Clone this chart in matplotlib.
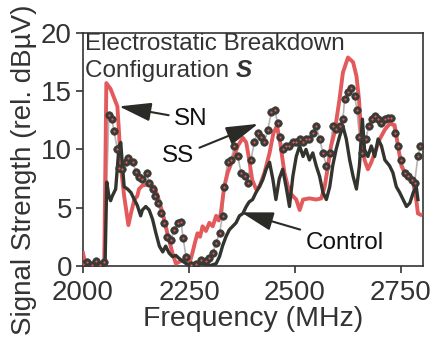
import matplotlib
matplotlib.use("Agg")
import matplotlib.pyplot as plt

plt.rcParams['font.family'] = ['Liberation Sans', 'DejaVu Sans']

TXT = '#333333'

# SN series (red line)
sn_freq = [2000, 2006, 2020, 2035, 2050, 2055, 2065, 2081, 2085, 2089, 2097, 2107, 2113, 2121,
           2128, 2132, 2140, 2152, 2168, 2176, 2188, 2199, 2211, 2219, 2235, 2251, 2258, 2264,
           2270, 2276, 2282, 2290, 2298, 2306, 2314, 2320, 2325, 2333, 2341, 2353, 2365, 2377,
           2385, 2392, 2399, 2408, 2416, 2428, 2440, 2449, 2457, 2465, 2475, 2487, 2503, 2511,
           2519, 2534, 2550, 2562, 2570, 2578, 2585, 2593, 2605, 2613, 2625, 2637, 2645, 2651,
           2656, 2664, 2672, 2680, 2688, 2700, 2712, 2723, 2735, 2743, 2751, 2759, 2771, 2779,
           2786, 2790, 2796]
sn_val = [1.1, 0.1, 0.2, 0.1, 0.1, 15.7, 15.2, 13.7, 11.4, 8.6, 6.0, 3.5, 4.5, 5.7,
          6.0, 6.6, 6.9, 7.0, 6.8, 6.0, 4.5, 2.8, 1.1, 0.2, 0.5, 0.2, 1.1, 2.0,
          2.8, 2.5, 3.4, 3.0, 3.7, 3.4, 4.3, 3.9, 4.5, 6.8, 8.0, 9.1, 10.3, 11.0,
          10.6, 9.1, 7.4, 6.6, 6.8, 8.0, 9.7, 11.4, 12.0, 10.6, 8.0, 6.3, 5.7, 4.8,
          5.7, 5.8, 5.7, 5.8, 6.8, 8.6, 10.3, 11.4, 14.3, 16.6, 17.9, 17.5, 16.3, 14.3,
          11.4, 9.1, 8.3, 8.9, 9.7, 10.9, 11.7, 12.2, 12.1, 10.3, 8.6, 8.0, 7.7, 7.1,
          5.7, 4.5, 4.4]

# Control series (dark line)
ctrl_freq = [2000, 2020, 2040, 2052, 2056, 2061, 2065, 2069, 2077, 2085, 2089, 2093, 2097, 2105,
             2113, 2121, 2128, 2136, 2140, 2148, 2156, 2164, 2172, 2180, 2188, 2195, 2203, 2211,
             2219, 2231, 2243, 2255, 2266, 2282, 2298, 2314, 2322, 2329, 2337, 2345, 2353, 2361,
             2369, 2377, 2385, 2392, 2400, 2408, 2416, 2424, 2432, 2440, 2448, 2455, 2463, 2471,
             2479, 2487, 2495, 2503, 2511, 2519, 2526, 2534, 2542, 2550, 2558, 2566, 2574, 2582,
             2589, 2597, 2605, 2613, 2621, 2629, 2637, 2645, 2652, 2659, 2664, 2672, 2680, 2688,
             2696, 2704, 2712, 2723, 2731, 2739, 2747, 2755, 2763, 2771, 2779, 2786, 2790]
ctrl_val = [0.1, 0.1, 0.1, 0.2, 7.2, 6.0, 5.6, 6.0, 6.6, 10.3, 10.6, 8.6, 6.8, 6.6,
            6.3, 5.7, 5.2, 4.3, 4.8, 5.1, 4.8, 4.0, 2.8, 1.7, 1.2, 1.7, 1.1, 0.8,
            0.9, 0.5, 0.2, 0.0, 0.2, 0.2, 0.0, 0.2, 0.8, 1.7, 2.5, 3.1, 3.4, 3.7,
            4.3, 4.5, 5.1, 5.5, 5.7, 6.3, 6.8, 7.4, 8.3, 8.9, 7.4, 5.7, 7.5, 8.3,
            6.8, 5.1, 7.7, 9.4, 10.3, 9.4, 10.0, 9.1, 9.7, 8.6, 7.7, 6.3, 5.7, 6.8,
            8.6, 10.0, 11.1, 12.0, 10.9, 9.1, 7.7, 6.6, 8.6, 12.6, 10.0, 9.4, 10.3, 9.4,
            10.9, 10.3, 9.1, 8.6, 8.0, 6.8, 6.3, 5.7, 5.1, 5.4, 6.3, 6.8, 5.7]

# SS series (grey line with dots)
ss_freq = [2000, 2010, 2020, 2030, 2040, 2050, 2061, 2068, 2073, 2081, 2085, 2093, 2101, 2107,
           2117, 2125, 2132, 2140, 2150, 2156, 2164, 2170, 2176, 2184, 2191, 2199, 2207, 2215,
           2223, 2231, 2236, 2243, 2255, 2266, 2278, 2290, 2298, 2306, 2314, 2322, 2329, 2333,
           2341, 2349, 2357, 2365, 2373, 2381, 2388, 2396, 2404, 2412, 2420, 2428, 2436, 2444,
           2452, 2459, 2465, 2471, 2479, 2487, 2495, 2503, 2511, 2519, 2526, 2534, 2542, 2550,
           2558, 2566, 2574, 2582, 2589, 2597, 2605, 2613, 2617, 2625, 2633, 2641, 2646, 2652,
           2659, 2667, 2674, 2682, 2688, 2696, 2704, 2712, 2719, 2727, 2735, 2743, 2751, 2759,
           2767, 2775, 2782, 2790, 2796]
ss_val = [0.2, 0.3, 0.1, 0.4, 0.1, 0.3, 13.0, 12.6, 11.6, 10.0, 8.4, 8.3, 8.9, 9.3,
          8.9, 8.1, 7.6, 7.5, 8.0, 7.1, 6.6, 6.0, 5.4, 4.5, 3.7, 2.5, 2.2, 3.1,
          3.7, 3.8, 2.4, 0.8, 0.1, 0.2, 0.5, 0.4, 0.7, 1.1, 2.0, 2.8, 4.3, 6.8,
          8.9, 9.1, 10.3, 9.4, 8.0, 7.7, 7.1, 9.1, 10.6, 11.4, 11.1, 10.6, 11.7, 13.2,
          13.4, 12.3, 11.1, 10.0, 10.3, 10.3, 10.6, 10.6, 10.9, 10.6, 10.9, 10.9, 11.4, 12.0,
          10.9, 9.7, 8.6, 9.7, 12.0, 11.8, 12.0, 12.6, 14.3, 14.9, 15.3, 14.6, 13.4, 11.1,
          9.7, 10.9, 12.0, 12.6, 12.9, 12.6, 12.3, 12.6, 12.7, 12.7, 11.4, 10.3, 9.1, 8.0,
          7.7, 7.4, 7.1, 9.4, 10.3]

x_ticks = [2000, 2250, 2500, 2750]
y_ticks = [0, 5, 10, 15, 20]

fig = plt.figure(figsize=(4.37, 3.37), dpi=100)
ax = fig.add_axes([0.19, 0.211, 0.778, 0.691])

ax.plot(ss_freq, ss_val, color='#b5b5b5', lw=1.2, zorder=2)
ax.plot(sn_freq, sn_val, color='#e35a5c', lw=2.8, zorder=3, solid_joinstyle='round')
ax.plot(ctrl_freq, ctrl_val, color='#34342f', lw=2.4, zorder=4, solid_joinstyle='round')
ax.plot(ss_freq, ss_val, ls='none', marker='o', ms=5.4, mfc='#3a3a36', mec='#3a3a36',
        mew=0.5, zorder=5)
ax.plot(ss_freq, ss_val, ls='none', marker='o', ms=1.6, mfc='#e35a5c', mec='none', zorder=6)

ax.set_xlim(2000, 2802)
ax.set_ylim(0, 20)
ax.set_xticks(x_ticks)
ax.set_yticks(y_ticks)
for s in ax.spines.values():
    s.set_color(TXT)
    s.set_linewidth(1.2)
ax.tick_params(direction='out', length=5, width=1.2, color=TXT, labelcolor=TXT,
               labelsize=20)
ax.tick_params(axis='x', pad=5)
ax.tick_params(axis='y', pad=3)
ax.set_xlabel('Frequency (MHz)', fontsize=20.5, color=TXT, labelpad=0)
fig.text(0.055, 0.496, 'Signal Strength (rel. dBµV)', rotation=90, ha='center',
         va='center', fontsize=20, color=TXT)

t1 = ax.text(0.005, 1.0, 'Electrostatic Breakdown', transform=ax.transAxes,
             ha='left', va='top', fontsize=17.5, color=TXT)
t2 = ax.text(0.005, 0.885, 'Configuration ', transform=ax.transAxes,
             ha='left', va='top', fontsize=17.5, color=TXT)
ax.annotate('S', xy=(1, 0), xycoords=t2, ha='left', va='bottom', fontsize=17.5,
            fontweight='bold', style='italic', color=TXT)

ap = dict(arrowstyle='-|>,head_length=1.1,head_width=0.32', mutation_scale=18,
          color='#2a2a26', lw=1.5, shrinkA=2, shrinkB=0)
ax.annotate('SN', xy=(2085, 13.7), xytext=(2215, 12.6), fontsize=17.5, color='#111111',
            ha='left', va='center', arrowprops=ap)
ax.annotate('SS', xy=(2413, 12.2), xytext=(2262, 9.4), fontsize=17.5, color='#111111',
            ha='right', va='center', arrowprops=ap)
ax.annotate('Control', xy=(2373, 4.6), xytext=(2525, 2.0), fontsize=17.5, color='#111111',
            ha='left', va='center', arrowprops=ap)

fig.savefig('out.png', dpi=100)
